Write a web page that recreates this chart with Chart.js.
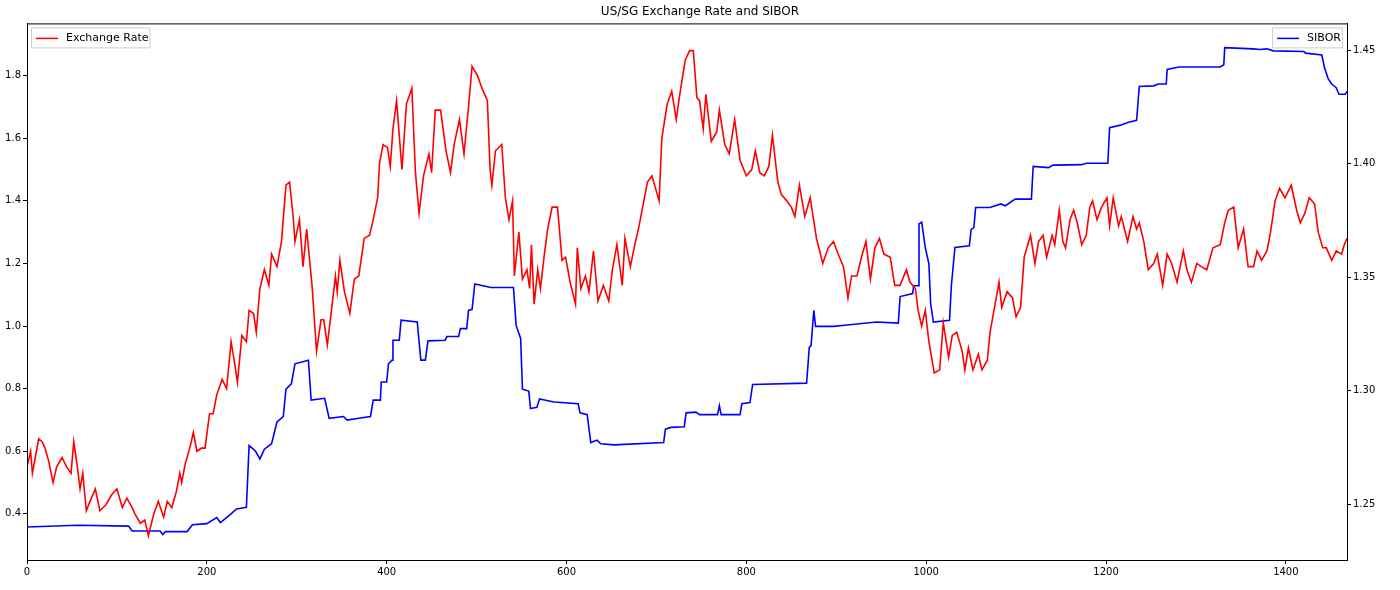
<!DOCTYPE html>
<html>
<head>
<meta charset="utf-8">
<script src="https://cdn.jsdelivr.net/npm/chart.js@4/dist/chart.umd.min.js"></script>
<style>
  body { margin: 0; background: #fff; }
  #wrap { width: 1400px; height: 590px; }
</style>
</head>
<body>
<div id="wrap"><canvas id="rateChart" width="1400" height="590"></canvas></div>
<script>
// Exchange rate readings (day index, value)
const rateDays = [0,4,6,13,17,20,24,29,33,39,44,49,52,56,59,62,66,70,76,81,88,94,100,106,111,117,120,126,131,135,141,146,152,156,161,166,170,172,176,181,185,189,194,198,203,207,211,217,222,227,231,234,239,244,247,252,255,259,264,269,272,278,283,288,292,296,298,303,307,311,317,322,327,330,334,339,343,345,348,353,359,364,369,375,381,385,390,392,396,401,404,407,411,417,422,428,432,436,441,447,450,454,460,466,471,475,481,486,491,495,501,506,512,515,517,521,528,532,536,540,542,547,551,556,559,561,564,568,571,575,579,584,590,595,599,604,610,612,616,621,625,630,635,641,647,651,656,662,665,671,676,680,686,690,695,703,706,712,717,722,726,732,737,741,745,748,752,755,761,767,770,776,781,787,793,800,806,810,815,820,825,829,835,839,845,850,854,859,865,871,878,885,891,897,902,908,913,917,923,928,933,938,943,948,953,960,965,971,978,982,988,991,995,999,1003,1009,1015,1019,1025,1029,1034,1040,1043,1047,1052,1058,1062,1068,1071,1076,1081,1084,1090,1096,1100,1105,1109,1116,1121,1125,1130,1134,1140,1143,1148,1152,1155,1160,1164,1168,1173,1178,1182,1185,1190,1195,1201,1204,1208,1214,1217,1224,1230,1234,1237,1242,1247,1253,1257,1263,1268,1273,1279,1286,1290,1295,1301,1306,1312,1319,1327,1332,1336,1342,1347,1353,1358,1364,1368,1373,1379,1383,1388,1393,1399,1406,1412,1416,1421,1426,1432,1436,1441,1445,1451,1456,1462,1465,1468];
const rateValues = [0.55,0.60,0.53,0.64,0.63,0.61,0.57,0.50,0.55,0.58,0.55,0.53,0.63,0.55,0.48,0.53,0.41,0.44,0.48,0.41,0.43,0.46,0.48,0.42,0.45,0.42,0.40,0.37,0.38,0.33,0.40,0.44,0.39,0.44,0.42,0.47,0.53,0.50,0.56,0.61,0.66,0.60,0.61,0.61,0.72,0.72,0.78,0.83,0.80,0.95,0.88,0.82,0.97,0.95,1.05,1.04,0.98,1.12,1.18,1.13,1.23,1.19,1.27,1.45,1.46,1.35,1.27,1.34,1.19,1.31,1.13,0.92,1.02,1.02,0.94,1.06,1.16,1.11,1.21,1.11,1.04,1.15,1.16,1.28,1.29,1.34,1.41,1.52,1.58,1.57,1.51,1.63,1.72,1.50,1.71,1.76,1.49,1.36,1.48,1.55,1.49,1.69,1.69,1.56,1.49,1.58,1.66,1.55,1.70,1.83,1.80,1.76,1.72,1.50,1.45,1.56,1.58,1.41,1.34,1.40,1.16,1.30,1.15,1.18,1.12,1.26,1.07,1.18,1.12,1.22,1.31,1.38,1.38,1.21,1.22,1.14,1.07,1.25,1.12,1.16,1.11,1.24,1.08,1.13,1.08,1.18,1.26,1.13,1.28,1.19,1.26,1.31,1.40,1.46,1.48,1.40,1.60,1.71,1.75,1.66,1.74,1.85,1.88,1.88,1.73,1.72,1.63,1.74,1.59,1.62,1.69,1.58,1.55,1.66,1.53,1.48,1.50,1.56,1.49,1.48,1.51,1.61,1.46,1.42,1.40,1.38,1.35,1.45,1.35,1.41,1.28,1.20,1.25,1.27,1.23,1.19,1.09,1.16,1.16,1.22,1.27,1.15,1.25,1.28,1.23,1.22,1.13,1.13,1.18,1.14,1.12,1.05,1.00,1.05,0.95,0.85,0.86,1.01,0.90,0.97,0.98,0.92,0.86,0.93,0.86,0.91,0.86,0.89,0.98,1.06,1.14,1.06,1.11,1.09,1.03,1.06,1.22,1.29,1.20,1.27,1.29,1.22,1.29,1.26,1.37,1.27,1.25,1.34,1.37,1.33,1.26,1.29,1.38,1.40,1.34,1.38,1.41,1.32,1.41,1.32,1.35,1.27,1.35,1.31,1.33,1.27,1.18,1.20,1.23,1.13,1.23,1.20,1.14,1.24,1.18,1.14,1.20,1.19,1.18,1.25,1.26,1.33,1.37,1.38,1.25,1.31,1.19,1.19,1.24,1.21,1.24,1.30,1.40,1.44,1.41,1.45,1.37,1.33,1.36,1.41,1.39,1.30,1.25,1.25,1.21,1.24,1.23,1.26,1.28];

// SIBOR readings (day index, value)
const siborDays = [0,56,113,117,148,151,154,178,184,200,211,215,226,233,244,247,254,259,264,272,278,285,288,294,298,313,316,331,336,352,356,369,382,385,393,394,400,402,406,407,414,416,434,438,443,446,465,467,480,482,489,491,495,498,516,541,544,549,551,558,560,567,570,586,613,615,623,627,634,638,653,708,710,716,731,733,744,748,768,770,772,793,795,804,807,867,870,872,875,877,897,912,945,969,971,985,986,991,992,995,999,1003,1005,1008,1026,1028,1032,1048,1050,1053,1055,1071,1083,1088,1099,1117,1119,1136,1141,1173,1178,1202,1204,1216,1225,1234,1237,1253,1258,1267,1268,1281,1327,1331,1332,1364,1371,1379,1386,1420,1422,1440,1443,1447,1451,1456,1459,1466,1468];
const siborValues = [1.2400,1.2408,1.2404,1.2383,1.2383,1.2367,1.2380,1.2380,1.2410,1.2415,1.2442,1.2420,1.2455,1.2480,1.2487,1.2759,1.2735,1.2700,1.2743,1.2767,1.2863,1.2887,1.3007,1.3031,1.3119,1.3135,1.2959,1.2967,1.2879,1.2887,1.2871,1.2879,1.2887,1.2959,1.2959,1.3039,1.3039,1.3119,1.3135,1.3223,1.3223,1.3311,1.3303,1.3135,1.3135,1.3220,1.3223,1.3239,1.3239,1.3274,1.3274,1.3354,1.3359,1.3471,1.3455,1.3455,1.3287,1.3231,1.3007,1.2999,1.2922,1.2927,1.2964,1.2951,1.2943,1.2903,1.2895,1.2772,1.2783,1.2767,1.2762,1.2772,1.2831,1.2839,1.2842,1.2903,1.2906,1.2895,1.2895,1.2935,1.2895,1.2895,1.2943,1.2948,1.3028,1.3034,1.3191,1.3199,1.3354,1.3284,1.3284,1.3290,1.3303,1.3298,1.3415,1.3428,1.3463,1.3463,1.3735,1.3743,1.3631,1.3559,1.3383,1.3303,1.3311,1.3463,1.3631,1.3639,1.3711,1.3719,1.3807,1.3807,1.3823,1.3815,1.3844,1.3844,1.3988,1.3983,1.3994,1.3996,1.4002,1.4002,1.4159,1.4170,1.4183,1.4191,1.4340,1.4343,1.4351,1.4351,1.4415,1.4426,1.4426,1.4436,1.4511,1.4506,1.4503,1.4506,1.4497,1.4494,1.4487,1.4479,1.4423,1.4375,1.4351,1.4335,1.4306,1.4306,1.4319];

// Tick labels
const xTicks = [0, 200, 400, 600, 800, 1000, 1200, 1400];
const rateTicks = [0.4, 0.6, 0.8, 1.0, 1.2, 1.4, 1.6, 1.8];
const siborTicks = [1.25, 1.30, 1.35, 1.40, 1.45];

const FONT = "'DejaVu Sans', sans-serif";

function pairs(xs, ys) {
    return xs.map((x, i) => ({ x: x, y: ys[i] }));
}

// box around the plot plus the two matplotlib-style legends
const framePlugin = {
    id: 'frame',
    afterDraw(chart) {
        const ctx = chart.ctx;
        const a = chart.chartArea;
        ctx.save();
        ctx.strokeStyle = '#000';
        ctx.lineWidth = 1;
        ctx.strokeRect(a.left + 0.5, a.top + 0.5, a.right - a.left, a.bottom - a.top);

        ctx.font = '11px ' + FONT;
        ctx.textBaseline = 'middle';
        const drawBox = (x, y, label, color) => {
            const w = 26 + ctx.measureText(label).width + 10;
            ctx.fillStyle = 'rgba(255,255,255,0.85)';
            ctx.strokeStyle = '#ccc';
            ctx.beginPath();
            ctx.rect(x + 0.5, y + 0.5, w, 20);
            ctx.fill();
            ctx.stroke();
            ctx.strokeStyle = color;
            ctx.lineWidth = 1.5;
            ctx.beginPath();
            ctx.moveTo(x + 5, y + 11);
            ctx.lineTo(x + 27, y + 11);
            ctx.stroke();
            ctx.lineWidth = 1;
            ctx.fillStyle = '#000';
            ctx.fillText(label, x + 35, y + 11);
            return w;
        };
        const ds = chart.data.datasets;
        drawBox(a.left + 4, a.top + 4, ds[0].label, ds[0].borderColor);
        ctx.font = '11px ' + FONT;
        const w2 = 26 + ctx.measureText(ds[1].label).width + 10;
        drawBox(a.right - 5 - w2, a.top + 4, ds[1].label, ds[1].borderColor);
        ctx.restore();
    }
};

const fixedTicks = arr => scale => { scale.ticks = arr.map(v => ({ value: v })); };

const rateChart = new Chart(document.getElementById('rateChart').getContext('2d'), {
    type: 'line',
    data: {
        datasets: [{
            label: 'Exchange Rate',
            data: pairs(rateDays, rateValues),
            borderColor: '#ff0000',
            borderWidth: 1.6,
            pointRadius: 0,
            tension: 0,
            yAxisID: 'y'
        }, {
            label: 'SIBOR',
            data: pairs(siborDays, siborValues),
            borderColor: '#0000ff',
            borderWidth: 1.6,
            pointRadius: 0,
            tension: 0,
            yAxisID: 'y1'
        }]
    },
    options: {
        responsive: false,
        animation: false,
        layout: { padding: { top: 0, right: 0, bottom: 0, left: 0 } },
        plugins: {
            legend: { display: false },
            tooltip: { enabled: false },
            title: {
                display: true,
                text: 'US/SG Exchange Rate and SIBOR',
                color: '#000',
                font: { family: FONT, size: 12, weight: 'normal' },
                padding: { top: 5, bottom: 4 }
            }
        },
        scales: {
            x: {
                type: 'linear',
                min: 0,
                max: 1468,
                afterBuildTicks: fixedTicks(xTicks),
                afterFit: s => { s.height = 30; },
                grid: { drawOnChartArea: false, tickLength: 4, color: '#000' },
                border: { color: '#000' },
                ticks: { color: '#000', font: { family: FONT, size: 10 }, padding: 2, maxRotation: 0, callback: v => String(v) }
            },
            y: {
                position: 'left',
                min: 0.2526,
                max: 1.967,
                afterBuildTicks: fixedTicks(rateTicks),
                afterFit: s => { s.width = 27; },
                grid: { drawOnChartArea: false, tickLength: 4, color: '#000' },
                border: { color: '#000' },
                ticks: { color: '#000', font: { family: FONT, size: 10 }, padding: 2, callback: v => v.toFixed(1) }
            },
            y1: {
                position: 'right',
                min: 1.2255,
                max: 1.4618,
                afterBuildTicks: fixedTicks(siborTicks),
                afterFit: s => { s.width = 53; },
                grid: { drawOnChartArea: false, tickLength: 4, color: '#000' },
                border: { color: '#000' },
                ticks: { color: '#000', font: { family: FONT, size: 10 }, padding: 2, callback: v => v.toFixed(2) }
            }
        }
    },
    plugins: [framePlugin]
});
</script>
</body>
</html>
